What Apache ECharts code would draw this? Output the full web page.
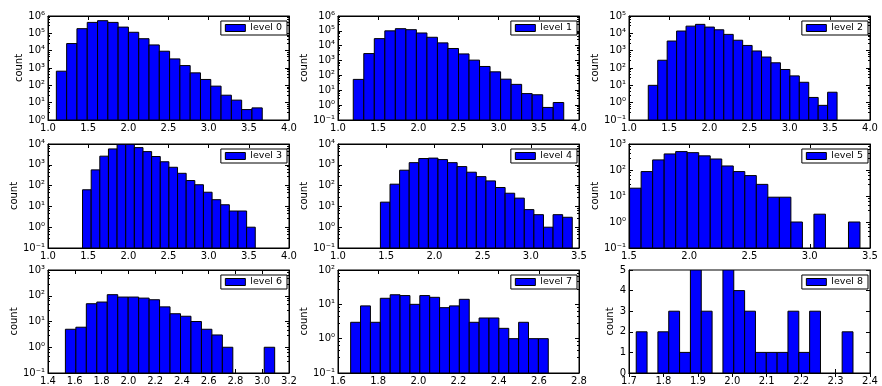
<!DOCTYPE html>
<html>
<head>
<meta charset="utf-8">
<script src="https://cdn.jsdelivr.net/npm/echarts@6/dist/echarts.min.js"></script>
<style>
  html, body { margin: 0; padding: 0; background: #fff; }
  #chart { width: 882px; height: 386px; }
</style>
</head>
<body>
<div id="chart"></div>
<script>
// histogram counts per level (20 bins each)
const level0 = [655, 25700, 186000, 427000, 537000, 427000, 229000, 115000, 49000, 21400, 9300, 3340, 1380, 525, 218, 90, 27, 14, 4, 5];
const level1 = [54, 2960, 30000, 100000, 140000, 120000, 72000, 37000, 15500, 6500, 2800, 1070, 400, 175, 56, 25, 6, 5, 0.7, 1.5];
const level2 = [10, 280, 3600, 13600, 26000, 33000, 23000, 16000, 8700, 4000, 2000, 960, 430, 200, 82, 35, 15, 2, 0.7, 4];
const level3 = [63, 570, 2600, 5800, 9600, 9600, 6700, 4300, 2500, 1400, 760, 390, 175, 110, 48, 21, 12, 6, 6, 1];
const level4 = [16, 117, 550, 1270, 2000, 2100, 1780, 1270, 820, 440, 270, 168, 81, 43, 25, 7, 4, 1, 4, 3];
const level5 = [20, 87, 245, 415, 510, 465, 350, 265, 143, 87, 61, 28, 9, 9, 1, 0, 2, 0, 0, 1];
const level6 = [5, 6, 49, 57, 110, 89, 89, 81, 70, 37, 20, 16, 10, 5, 3, 1, 0, 0, 0, 1];
const level7 = [3, 9, 3, 15, 19, 18, 10, 18, 16, 8, 9, 14, 3, 4, 4, 2, 1, 3, 1, 1];
const level8 = [2, 0, 2, 3, 1, 5, 3, 0, 5, 4, 3, 1, 1, 1, 3, 1, 3, 0, 0, 2];
const levelCounts = [level0, level1, level2, level3, level4, level5, level6, level7, level8];

// histogram range (first and last bin edge) per level
const binRanges = [
  [1.104, 3.667], [1.19, 3.81], [1.24, 3.59],
  [1.43, 3.58], [1.44, 3.43], [1.505, 3.417],
  [1.53, 3.093], [1.663, 2.647], [1.721, 2.3506]
];

// x axis ticks: min, max, step
const xTicks = [
  [1.0, 4.0, 0.5], [1.0, 4.0, 0.5], [1.0, 4.0, 0.5],
  [1.0, 4.0, 0.5], [1.0, 3.5, 0.5], [1.5, 3.5, 0.5],
  [1.4, 3.2, 0.2], [1.6, 2.8, 0.2], [1.7, 2.4, 0.1]
];

// y axis: log decades [lowest, highest] or linear [min, max, step]
const yDecades = [[0, 6], [-1, 6], [-1, 5], [-1, 4], [-1, 4], [-1, 3], [-1, 3], [-1, 2], null];
const yLinear = [0, 5, 1];

const colLeft = [48, 338, 629];
const rowTop = [16, 144, 270];
const plotW = 241, plotH = 104;
const nameGaps = [21, 25, 21, 23, 26, 22, 27, 26, 11];

const FONT = 'DejaVu Sans';
const sup = { '-': '\u207b', '0': '\u2070', '1': '\u00b9', '2': '\u00b2', '3': '\u00b3', '4': '\u2074', '5': '\u2075', '6': '\u2076', '7': '\u2077', '8': '\u2078', '9': '\u2079' };
const logLabel = v => '10' + String(Math.round(Math.log10(v))).split('').map(ch => sup[ch]).join('');

const grids = [], xAxes = [], yAxes = [], series = [], legends = [];

levelCounts.forEach((counts, i) => {
  const left = colLeft[i % 3], top = rowTop[Math.floor(i / 3)];
  grids.push({ left, top, width: plotW, height: plotH, show: true, borderColor: '#000', borderWidth: 1 });

  const [xmin, xmax, xstep] = xTicks[i];
  const xBase = {
    type: 'value', gridIndex: i, min: xmin, max: xmax, interval: xstep,
    axisLine: { lineStyle: { color: '#000', width: 1 } },
    axisTick: { inside: true, length: 4, lineStyle: { color: '#000' } },
    splitLine: { show: false }
  };
  xAxes.push(Object.assign({}, xBase, {
    position: 'bottom',
    axisLabel: { margin: 3, fontFamily: FONT, fontSize: 10, color: '#000', formatter: v => v.toFixed(1) }
  }));
  xAxes.push(Object.assign({}, xBase, { position: 'top', axisLabel: { show: false } }));

  const dec = yDecades[i];
  const yBase = dec
    ? { type: 'log', logBase: 10, min: Math.pow(10, dec[0]), max: Math.pow(10, dec[1]),
        minorTick: { show: true, splitNumber: 5, length: 2, lineStyle: { color: '#000' } } }
    : { type: 'value', min: yLinear[0], max: yLinear[1], interval: yLinear[2] };
  Object.assign(yBase, {
    gridIndex: i,
    axisLine: { lineStyle: { color: '#000', width: 1 } },
    axisTick: { inside: true, length: 4, lineStyle: { color: '#000' } },
    splitLine: { show: false }
  });
  yAxes.push(Object.assign({}, yBase, {
    position: 'left',
    name: 'count', nameLocation: 'middle', nameRotate: 90, nameGap: nameGaps[i],
    nameTextStyle: { fontFamily: FONT, fontSize: 10, color: '#000' },
    axisLabel: { margin: 3, fontFamily: FONT, fontSize: 10, color: '#000', formatter: dec ? logLabel : v => String(v) }
  }));
  yAxes.push(Object.assign({}, yBase, { position: 'right', axisLabel: { show: false } }));

  const [lo, hi] = binRanges[i];
  const w = (hi - lo) / counts.length;
  const data = [];
  counts.forEach((c, k) => { if (c > 0) data.push([lo + k * w, lo + (k + 1) * w, c]); });

  series.push({
    name: 'level ' + i,
    type: 'custom',
    xAxisIndex: 2 * i,
    yAxisIndex: 2 * i,
    itemStyle: { color: '#0000ff', borderColor: '#000', borderWidth: 1 },
    encode: { x: [0, 1], y: 2 },
    clip: true,
    data,
    renderItem: (params, api) => {
      const p0 = api.coord([api.value(0), api.value(2)]);
      const p1 = api.coord([api.value(1), api.value(2)]);
      const bottom = params.coordSys.y + params.coordSys.height;
      return {
        type: 'rect',
        shape: { x: p0[0], y: p0[1], width: p1[0] - p0[0], height: bottom - p0[1] },
        style: { fill: '#0000ff', stroke: '#000', lineWidth: 1 }
      };
    }
  });

  legends.push({
    data: ['level ' + i],
    right: 882 - (left + plotW) + 2,
    top: top + 5,
    orient: 'vertical',
    icon: 'rect',
    itemWidth: 20,
    itemHeight: 7,
    padding: [2, 5, 2, 4],
    borderColor: '#000',
    borderWidth: 1,
    borderRadius: 0,
    backgroundColor: '#fff',
    itemStyle: { color: '#0000ff', borderColor: '#000', borderWidth: 1 },
    textStyle: { fontFamily: FONT, fontSize: 9.5, color: '#000' }
  });
});

const chart = echarts.init(document.getElementById('chart'), null, { renderer: 'canvas' });
chart.setOption({
  animation: false,
  backgroundColor: '#fff',
  grid: grids,
  xAxis: xAxes,
  yAxis: yAxes,
  legend: legends,
  series
});
</script>
</body>
</html>
